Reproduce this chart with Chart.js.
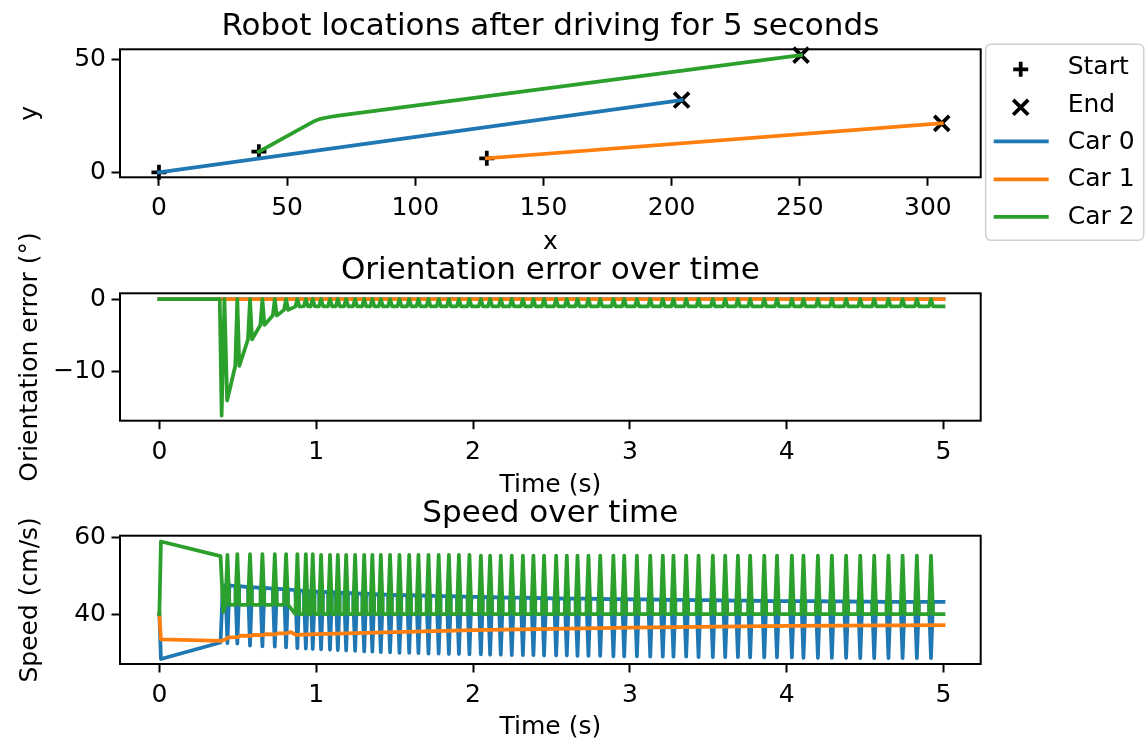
<!DOCTYPE html>
<html lang="en">
  <head>
    <meta charset="UTF-8" />
    <title>Robot locations after driving for 5 seconds</title>
    <script src="https://cdn.jsdelivr.net/npm/chart.js"></script>
    <style>
      body { margin: 0; background: #fff; }
      .plot { position: absolute; left: 0; top: 0; width: 1145px; height: 746px; }
    </style>
  </head>
  <body>
    <div class="plot"><canvas id="pathChart"></canvas></div>
    <div class="plot"><canvas id="orientChart"></canvas></div>
    <div class="plot"><canvas id="speedChart"></canvas></div>

    <script>
      // ---- paths (cm) ----
      const car0X = [0, 203.9];
      const car0Y = [0, 31.9];
      const car1X = [127.9, 305.4];
      const car1Y = [6.2, 21.6];
      const car2X = [39.0, 59.0, 61.0, 63.0, 66.0, 70.0, 250.5];
      const car2Y = [9.1, 21.6, 22.8, 23.6, 24.3, 25.0, 51.7];
      const startX = [0, 127.9, 39.0];
      const startY = [0, 6.2, 9.1];
      const endX = [203.9, 305.4, 250.5];
      const endY = [31.9, 21.6, 51.7];

      // ---- time series (s) ----
      // times where car 2 speed spikes / car 0 speed dips / car 2 heading snaps back
      const spikeTimes = [
        0.434, 0.497, 0.578, 0.657, 0.736, 0.808, 0.880, 0.934, 0.978, 1.031,
        1.088, 1.138, 1.191, 1.248, 1.306, 1.358, 1.412, 1.471, 1.531, 1.593,
        1.652, 1.716, 1.781, 1.846, 1.910, 1.977, 2.050, 2.109, 2.177, 2.247,
        2.318, 2.385, 2.453, 2.530, 2.598, 2.666, 2.736, 2.811, 2.895, 2.964,
        3.045, 3.130, 3.210, 3.278, 3.359, 3.438, 3.529, 3.608, 3.689, 3.767,
        3.857, 3.938, 4.033, 4.107, 4.199, 4.288, 4.379, 4.469, 4.558, 4.649,
        4.739, 4.830, 4.920,
      ];
      const blueTop = [
        47.5, 47.3, 47.0, 46.8, 46.6, 46.4, 46.2, 46.0, 45.9, 45.8,
        45.7, 45.6, 45.5, 45.4, 45.3, 45.2, 45.1, 45.0, 44.95, 44.9,
        44.85, 44.8, 44.7, 44.65, 44.6, 44.5, 44.45, 44.4, 44.35, 44.3,
        44.25, 44.2, 44.15, 44.1, 44.05, 44.0, 44.0, 43.95, 43.9, 43.9,
        43.85, 43.8, 43.75, 43.7, 43.7, 43.65, 43.6, 43.55, 43.5, 43.5,
        43.45, 43.4, 43.4, 43.35, 43.35, 43.3, 43.3, 43.25, 43.25, 43.2,
        43.2, 43.2, 43.2,
      ];
      const blueLow = [
        32.4, 32.3, 31.8, 31.6, 31.5, 31.3, 31.1, 31.0, 30.9, 30.8,
        30.7, 30.6, 30.5, 30.4, 30.3, 30.2, 30.1, 30.0, 29.9, 29.9,
        29.8, 29.7, 29.7, 29.6, 29.6, 29.5, 29.5, 29.4, 29.4, 29.3,
        29.3, 29.3, 29.2, 29.2, 29.2, 29.1, 29.1, 29.1, 29.0, 29.0,
        29.0, 28.9, 28.9, 28.9, 28.9, 28.8, 28.8, 28.8, 28.8, 28.7,
        28.7, 28.7, 28.7, 28.6, 28.6, 28.6, 28.6, 28.5, 28.5, 28.5,
        28.5, 28.5, 28.5,
      ];
      const greenPeak = [
        55.4, 55.6, 55.6, 55.6, 55.6, 55.6, 55.6, 55.6, 55.6, 55.4,
        55.4, 55.4, 55.4, 55.4, 55.4, 55.4, 55.4, 55.4, 55.4, 55.4,
        55.4, 55.4, 55.4, 55.4, 55.4, 55.4, 55.2, 55.2, 55.2, 55.2,
        55.2, 55.2, 55.2, 55.2, 55.2, 55.2, 55.2, 55.2, 55.2, 55.2,
        55.2, 55.2, 55.2, 55.2, 55.2, 55.2, 55.2, 55.2, 55.2, 55.2,
        55.2, 55.2, 55.2, 55.2, 55.2, 55.2, 55.2, 55.2, 55.2, 55.2,
        55.2, 55.2, 55.2,
      ];
      const greenBase = [
        42.4, 42.4, 42.4, 42.4, 42.4, 42.4, 40.0, 40.0, 40.0, 40.0,
        40.0, 40.0, 40.0, 40.0, 40.0, 40.0, 40.0, 40.0, 40.0, 40.0,
        40.0, 40.0, 40.0, 40.0, 40.0, 40.0, 40.0, 40.0, 40.0, 40.0,
        40.0, 40.0, 40.0, 40.0, 40.0, 40.0, 40.0, 40.0, 40.0, 40.0,
        40.0, 40.0, 40.0, 40.0, 40.0, 40.0, 40.0, 40.0, 40.0, 40.0,
        40.0, 40.0, 40.0, 40.0, 40.0, 40.0, 40.0, 40.0, 40.0, 40.0,
        40.0, 40.0, 40.0,
      ];
      // car 2 heading error around each snap, from the 2nd spike on
      const orientLow = [
        -9.3, -5.6, -3.6, -2.3, -1.5, -1.05, -1, -1, -1,
        -1, -1, -1, -1, -1, -1, -1, -1, -1, -1,
        -1, -1, -1, -1, -1, -1, -1, -1, -1, -1,
        -1, -1, -1, -1, -1, -1, -1, -1, -1, -1,
        -1, -1, -1, -1, -1, -1, -1, -1, -1, -1,
        -1, -1, -1, -1, -1, -1, -1, -1, -1, -1,
        -1, -1, -1,
      ];
      const orientPeak = [
        0, 0, 0, 0, 0, 0, 0, 0, 0,
        0, 0, 0, 0, 0, 0, 0, 0, 0, 0,
        0, 0, 0, 0, 0, 0, 0, 0, 0, 0,
        0, 0, 0, 0, 0, 0, 0, 0, 0, 0,
        0, 0, 0, 0, 0, 0, 0, 0, 0, 0,
        0, 0, 0, 0, 0, 0, 0, 0, 0, 0,
        0, 0, 0,
      ];
      // before the spikes start / after they end
      const greenSpeedLeadT = [0, 0.01, 0.39, 0.408];
      const greenSpeedLeadV = [40, 58.9, 55.1, 40.5];
      const blueSpeedLeadT = [0, 0.01, 0.39, 0.405];
      const blueSpeedLeadV = [40, 28.3, 32.6, 47.5];
      const orangeSpeedT = [0, 0.01, 0.39, 0.42, 0.44, 0.5, 0.52, 0.58, 0.6, 0.66, 0.68, 0.74, 0.76, 0.81, 0.84, 0.87, 1.0, 2.0, 3.0, 4.0, 5.0];
      const orangeSpeedV = [40, 33.4, 33.0, 33.4, 33.9, 34.0, 34.4, 34.3, 34.6, 34.5, 34.8, 34.7, 35.0, 35.0, 35.3, 34.6, 34.8, 35.8, 36.5, 36.9, 37.1];
      const greenOrientLeadT = [0, 0.385, 0.397, 0.415, 0.432];
      const greenOrientLeadV = [0, 0, -16.2, 0, -14.1];
      const flatT = [0, 5.0];
      const flatV = [0, 0];
      const endT = 5.0;

      const BLUE = "#1f77b4";
      const ORANGE = "#ff7f0e";
      const GREEN = "#2ca02c";
      const FONT = "'DejaVu Sans', sans-serif";
      const LW = 3.75;
      const HALF = 0.013; // half width of a one-sample spike

      Chart.defaults.font.family = FONT;
      Chart.defaults.color = "#000";

      const pts = (xs, ys) => xs.map((x, i) => ({ x, y: ys[i] }));

      function spiky(lead, peaks, levels, tailY, from = 0) {
        const out = lead.slice();
        for (let i = from; i < spikeTimes.length; i++) {
          const t = spikeTimes[i];
          const lv = levels[i - from];
          out.push({ x: t - HALF, y: lv }, { x: t, y: peaks[i - from] }, { x: t + HALF, y: lv });
        }
        out.push({ x: endT, y: tailY });
        return out;
      }

      // axes box + title centred over the plot area
      const frame = {
        id: "frame",
        afterDatasetsDraw(chart, args, opts) {
          const { ctx, chartArea: a } = chart;
          ctx.save();
          ctx.strokeStyle = "#000";
          ctx.lineWidth = 2;
          ctx.strokeRect(a.left, a.top, a.right - a.left, a.bottom - a.top);
          ctx.fillStyle = "#000";
          ctx.font = "31px " + FONT;
          ctx.textAlign = "center";
          ctx.textBaseline = "alphabetic";
          ctx.fillText(opts.title, (a.left + a.right) / 2, a.top - 14);
          ctx.restore();
        },
      };

      const legendBox = {
        id: "legendBox",
        afterDraw(chart) {
          const { ctx, chartArea: a } = chart;
          const x0 = a.right + 5, y0 = a.top - 5;
          ctx.save();
          ctx.beginPath();
          ctx.roundRect(x0, y0, 158, 196, 5);
          ctx.fillStyle = "rgba(255,255,255,0.8)";
          ctx.fill();
          ctx.strokeStyle = "#d0d0d0";
          ctx.lineWidth = 1.5;
          ctx.stroke();
          const rows = [69, 107, 141, 179, 216.5];
          const textRows = [67, 105, 142, 179.5, 217];
          chart.data.datasets.forEach((ds, i) => {
            const y = y0 + rows[i] - 44;
            ctx.strokeStyle = ds.borderColor;
            ctx.lineWidth = ds.borderWidth;
            if (ds.showLine === false) {
              Chart.helpers.drawPoint(ctx, {
                pointStyle: ds.pointStyle,
                radius: ds.pointRadius,
                borderWidth: ds.borderWidth,
                rotation: 0,
              }, x0 + 35, y);
            } else {
              ctx.beginPath();
              ctx.moveTo(x0 + 8, y);
              ctx.lineTo(x0 + 63, y);
              ctx.stroke();
            }
            ctx.fillStyle = "#000";
            ctx.font = "25px " + FONT;
            ctx.textBaseline = "middle";
            ctx.fillText(ds.label, x0 + 82, y0 + textRows[i] - 44);
          });
          ctx.restore();
        },
      };

      const fmt = (v) => (v < 0 ? "\u2212" + Math.abs(v) : String(v));

      function xScale(min, max, ticks, label, titlePad) {
        return {
          type: "linear",
          min, max,
          afterBuildTicks: (s) => { s.ticks = ticks.map((v) => ({ value: v })); },
          afterFit: (s) => { s.height = 80; },
          grid: { drawOnChartArea: false, drawTicks: true, tickLength: 8.5, tickWidth: 2, tickColor: "#000" },
          border: { display: false },
          ticks: { padding: 8, font: { size: 25 }, color: "#000", maxRotation: 0, autoSkip: false, callback: fmt },
          title: { display: true, text: label, font: { size: 25 }, color: "#000", padding: { top: 0, bottom: titlePad } },
        };
      }

      function yScale(min, max, ticks, label) {
        return {
          type: "linear",
          min, max,
          afterBuildTicks: (s) => { s.ticks = ticks.map((v) => ({ value: v })); },
          afterFit: (s) => { s.width = 105; },
          grid: { drawOnChartArea: false, drawTicks: true, tickLength: 8.5, tickWidth: 2, tickColor: "#000" },
          border: { display: false },
          ticks: { padding: 5.5, font: { size: 25 }, color: "#000", autoSkip: false, callback: fmt },
          title: { display: true, text: label, font: { size: 25 }, color: "#000", padding: { top: 0, bottom: 0 } },
        };
      }

      function baseOptions(title, padding, scales) {
        return {
          responsive: true,
          maintainAspectRatio: false,
          animation: false,
          layout: { padding },
          elements: {
            point: { radius: 0 },
            line: { borderWidth: LW, tension: 0, borderJoinStyle: "round", borderCapStyle: "square" },
          },
          plugins: {
            legend: { display: false },
            tooltip: { enabled: false },
            title: { display: false },
            frame: { title },
          },
          scales,
        };
      }

      const line = (label, data, color, order) => ({
        label, data, borderColor: color, backgroundColor: color, borderWidth: LW, pointRadius: 0, order,
      });

      new Chart(document.getElementById("pathChart"), {
        type: "line",
        data: {
          datasets: [
            { label: "Start", data: pts(startX, startY), showLine: false, pointStyle: "cross", pointRadius: 7.5,
              borderColor: "#000", backgroundColor: "#000", borderWidth: 3.75, order: 10, clip: false },
            { label: "End", data: pts(endX, endY), showLine: false, pointStyle: "crossRot", pointRadius: 10.6,
              borderColor: "#000", backgroundColor: "#000", borderWidth: 3.75, order: 9, clip: false },
            line("Car 0", pts(car0X, car0Y), BLUE, 3),
            line("Car 1", pts(car1X, car1Y), ORANGE, 2),
            line("Car 2", pts(car2X, car2Y), GREEN, 1),
          ],
        },
        options: baseOptions(
          "Robot locations after driving for 5 seconds",
          { left: 15, right: 164.3, top: 49.3, bottom: 488.7 },
          { x: xScale(-15.2, 320.6, [0, 50, 100, 150, 200, 250, 300], "x", 0),
            y: yScale(-2.2, 54.3, [0, 50], "y") }
        ),
        plugins: [frame, legendBox],
      });

      new Chart(document.getElementById("orientChart"), {
        type: "line",
        data: {
          datasets: [
            line("Car 0", pts(flatT, flatV), BLUE, 3),
            line("Car 1", pts(flatT, flatV), ORANGE, 2),
            line("Car 2", spiky(pts(greenOrientLeadT, greenOrientLeadV), orientPeak, orientLow, -1, 1), GREEN, 1),
          ],
        },
        options: baseOptions(
          "Orientation error over time",
          { left: 15, right: 164.3, top: 293.3, bottom: 245.3 },
          { x: xScale(-0.251, 5.237, [0, 1, 2, 3, 4, 5], "Time (s)", 0.7),
            y: yScale(-16.9, 0.8, [-10, 0], "Orientation error (\u00b0)") }
        ),
        plugins: [frame],
      });

      new Chart(document.getElementById("speedChart"), {
        type: "line",
        data: {
          datasets: [
            line("Car 0", spiky(pts(blueSpeedLeadT, blueSpeedLeadV), blueLow, blueTop, 43.2), BLUE, 3),
            line("Car 1", pts(orangeSpeedT, orangeSpeedV), ORANGE, 2),
            line("Car 2", spiky(pts(greenSpeedLeadT, greenSpeedLeadV), greenPeak, greenBase, 40.0), GREEN, 1),
          ],
        },
        options: baseOptions(
          "Speed over time",
          { left: 15, right: 164.3, top: 535.7, bottom: 2 },
          { x: xScale(-0.251, 5.237, [0, 1, 2, 3, 4, 5], "Time (s)", 2),
            y: yScale(27.0, 60.4, [40, 60], "Speed (cm/s)") }
        ),
        plugins: [frame],
      });
    </script>
  </body>
</html>
